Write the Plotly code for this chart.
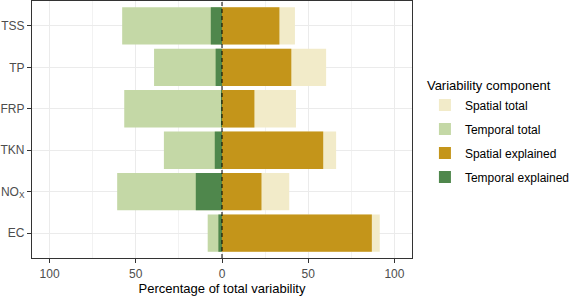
import plotly.graph_objects as go

categories = ["TSS", "TP", "FRP", "TKN", "NO<sub>X</sub>", "EC"]
spatial_total = [42.3, 60.4, 42.9, 66.2, 39.0, 91.5]
temporal_total = [57.9, 39.4, 56.7, 33.7, 60.8, 8.3]
spatial_explained = [33.3, 40.2, 18.8, 58.7, 22.9, 86.9]
temporal_explained = [6.5, 3.7, 0.4, 4.2, 15.2, 2.1]
tick_vals = [-100, -50, 0, 50, 100]
tick_text = ["100", "50", "0", "50", "100"]

colors = {
    "Spatial total": "#F2EBC9",
    "Temporal total": "#C4D8A6",
    "Spatial explained": "#C4951A",
    "Temporal explained": "#4F874C",
}

fig = go.Figure()
series = [
    ("Spatial total", spatial_total, 1),
    ("Temporal total", temporal_total, -1),
    ("Spatial explained", spatial_explained, 1),
    ("Temporal explained", temporal_explained, -1),
]
for name, vals, sign in series:
    fig.add_trace(go.Bar(
        y=categories, x=[sign * v for v in vals], orientation="h",
        name=name, legendgroup=name,
        marker=dict(color=colors[name], line=dict(width=0)),
        width=0.9, hoverinfo="x+y+name",
    ))

fig.add_shape(type="line", xref="x", yref="paper", x0=0, x1=0, y0=0, y1=1,
              line=dict(color="black", width=1, dash="4px,3px"))

fig.update_layout(
    width=576, height=297,
    margin=dict(l=32, r=162, t=1, b=39),
    barmode="overlay",
    plot_bgcolor="white", paper_bgcolor="white",
    font=dict(family="Liberation Sans, Arial, sans-serif", size=12, color="#4D4D4D"),
    legend=dict(
        title=dict(text="Variability component", font=dict(size=13, color="black")),
        x=(427 - 32) / 382, xanchor="left", y=0.5 - 3 / 257, yanchor="middle",
        font=dict(size=12, color="black"),
        bgcolor="rgba(0,0,0,0)", tracegroupgap=5, itemwidth=30,
    ),
    xaxis=dict(
        range=[-110.2, 110.2], tickvals=tick_vals, ticktext=tick_text,
        showgrid=True, gridcolor="#EBEBEB", gridwidth=1,
        minor=dict(tickvals=[-75, -25, 25, 75], showgrid=True, gridcolor="#F2F2F2", gridwidth=0.7),
        zeroline=False, showline=True, linecolor="#333333", linewidth=1.2, mirror=True,
        ticks="outside", ticklen=4, tickcolor="#333333", automargin=False,
        tickfont=dict(size=12, color="#4D4D4D"),
        title=dict(text="Percentage of total variability", font=dict(size=13, color="black"), standoff=4),
    ),
    yaxis=dict(
        categoryorder="array", categoryarray=categories, range=[5.6, -0.6],
        showgrid=True, gridcolor="#EBEBEB", gridwidth=1,
        zeroline=False, showline=True, linecolor="#333333", linewidth=1.2, mirror=True,
        ticks="outside", ticklen=4, tickcolor="#333333", automargin=False,
        tickfont=dict(size=12, color="#4D4D4D"),
    ),
)

fig.write_html("out.html", config={"displayModeBar": False},
               post_script="document.body.style.margin='0px';")
